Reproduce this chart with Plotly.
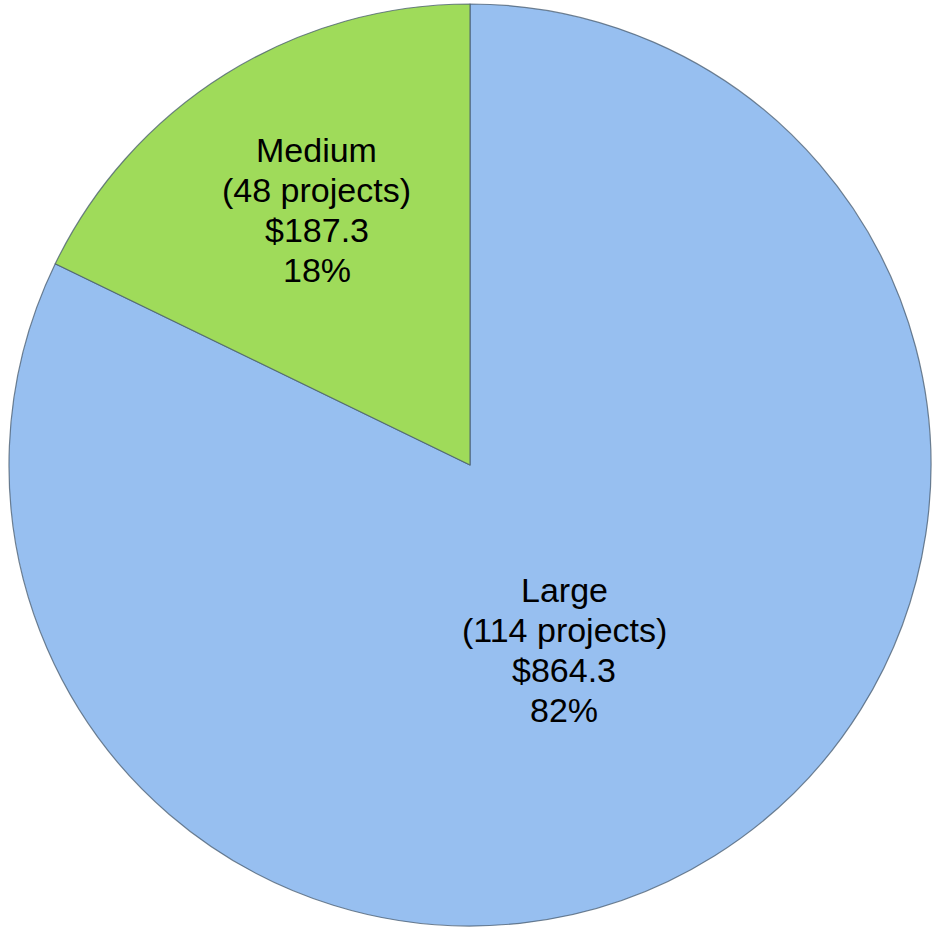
import math
import plotly.graph_objects as go

# Project funding by size category ($ millions)
categories = ["Large", "Medium"]
project_counts = [114, 48]
amounts = [864.3, 187.3]
percent_labels = ["82%", "18%"]

slice_colors = ["#97BFF0", "#9FDB5A"]

W, H = 935, 929
margin = dict(l=8, r=3, t=4, b=3)
plot_w = W - margin["l"] - margin["r"]
plot_h = H - margin["t"] - margin["b"]
radius = min(plot_w, plot_h) / 2

fig = go.Figure(
    go.Pie(
        labels=categories,
        values=amounts,
        sort=False,
        direction="clockwise",
        rotation=0,
        textinfo="none",
        hoverinfo="label+value+percent",
        marker=dict(colors=slice_colors,
                    line=dict(color="rgba(70,90,110,0.75)", width=1.2)),
        showlegend=False,
    )
)

# Label placement: radial fraction of the radius and a small angular nudge (degrees)
label_radial = [0.45, 0.645]
label_nudge = [5.0, 1.0]
line_gap = 40
font = dict(family="Liberation Sans, Arial, sans-serif", size=34, color="black")

total = sum(amounts)
cum = 0.0
annotations = []
for i, name in enumerate(categories):
    frac = amounts[i] / total
    mid = (cum + frac / 2) * 360 + label_nudge[i]
    cum += frac
    theta = math.radians(mid)
    dx = radius * label_radial[i] * math.sin(theta)
    dy = radius * label_radial[i] * math.cos(theta)
    x = 0.5 + dx / plot_w
    y = 0.5 + dy / plot_h
    lines = [name, f"({project_counts[i]} projects)", f"${amounts[i]:.1f}", percent_labels[i]]
    for k, txt in enumerate(lines):
        annotations.append(dict(
            x=x, y=y, xref="paper", yref="paper",
            text=txt, showarrow=False, font=font,
            xanchor="center", yanchor="middle",
            yshift=(1.5 - k) * line_gap,
        ))

fig.update_layout(
    width=W, height=H,
    margin=margin,
    paper_bgcolor="white",
    plot_bgcolor="white",
    annotations=annotations,
)

fig.write_html("out.html")
